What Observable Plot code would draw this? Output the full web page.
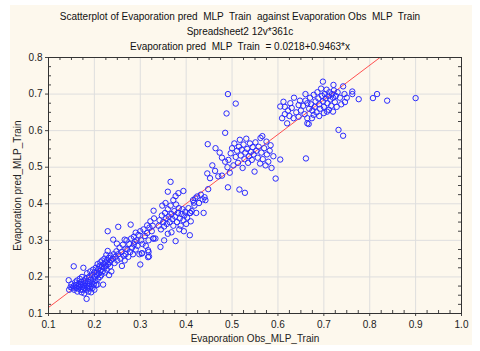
<!DOCTYPE html>
<html>
<head>
<meta charset="utf-8">
<script src="https://cdn.jsdelivr.net/npm/d3@7"></script>
<script src="https://cdn.jsdelivr.net/npm/@observablehq/plot@0.6"></script>
<style>
  html, body { margin: 0; padding: 0; background: #ffffff; }
  body { width: 480px; height: 351px; position: relative; overflow: hidden; font-family: "Liberation Sans", Arial, sans-serif; }
  #panel { position: absolute; left: 10px; top: 5px; width: 462px; height: 340px; background: #fdf8ed; }
  #title { position: absolute; left: 0; top: 9px; width: 480px; text-align: center; font-size: 10px; line-height: 15px; color: #111; white-space: pre; }
  #chart { position: absolute; left: 0; top: 50px; }
</style>
</head>
<body>
<div id="panel"></div>
<div id="title"></div>
<div id="chart"></div>
<script>
// ---- text ----
const titleLines = [
  "Scatterplot of Evaporation pred  MLP  Train  against Evaporation Obs  MLP  Train",
  "Spreadsheet2 12v*361c",
  "Evaporation pred  MLP  Train  = 0.0218+0.9463*x"
];
const xLabel = "Evaporation Obs_MLP_Train";
const yLabel = "Evaporation pred_MLP_Train";

// ---- axes ----
const xTicks = [0.1, 0.2, 0.3, 0.4, 0.5, 0.6, 0.7, 0.8, 0.9, 1.0];
const yTicks = [0.1, 0.2, 0.3, 0.4, 0.5, 0.6, 0.7, 0.8];
const xMinor = [0.125,0.15,0.175,0.225,0.25,0.275,0.325,0.35,0.375,0.425,0.45,0.475,0.525,0.55,0.575,0.625,0.65,0.675,0.725,0.75,0.775,0.825,0.85,0.875,0.925,0.95,0.975];
const yMinor = [0.125,0.15,0.175,0.225,0.25,0.275,0.325,0.35,0.375,0.425,0.45,0.475,0.525,0.55,0.575,0.625,0.65,0.675,0.725,0.75,0.775];

// ---- fit ----
const intercept = 0.0218;
const slope = 0.9463;

// ---- observations [obs, pred] ----
const lowCluster = [
[0.145,0.165],[0.148,0.172],[0.150,0.180],[0.144,0.191],[0.152,0.170],[0.155,0.175],[0.156,0.165],[0.158,0.185],[0.160,0.178],[0.160,0.170],
[0.162,0.190],[0.163,0.160],[0.165,0.175],[0.165,0.168],[0.166,0.182],[0.168,0.195],[0.168,0.172],[0.170,0.165],[0.170,0.178],[0.171,0.186],
[0.172,0.158],[0.173,0.200],[0.174,0.172],[0.175,0.180],[0.175,0.165],[0.176,0.225],[0.177,0.190],[0.178,0.170],[0.178,0.155],[0.180,0.175],
[0.180,0.185],[0.181,0.195],[0.182,0.165],[0.183,0.140],[0.183,0.178],[0.184,0.210],[0.185,0.170],[0.186,0.188],[0.187,0.160],[0.188,0.200],
[0.188,0.175],[0.190,0.182],[0.190,0.168],[0.191,0.215],[0.192,0.192],[0.193,0.158],[0.194,0.175],[0.195,0.205],[0.195,0.185],[0.196,0.170],
[0.197,0.220],[0.198,0.195],[0.199,0.180],[0.200,0.212],[0.200,0.165],[0.201,0.200],[0.202,0.190],[0.203,0.225],[0.204,0.178],[0.205,0.215],
[0.206,0.205],[0.207,0.179],[0.207,0.235],[0.208,0.195],[0.209,0.222],[0.210,0.210],[0.211,0.230],[0.212,0.200],[0.213,0.240],[0.214,0.218],
[0.215,0.205],[0.216,0.228],[0.217,0.245],[0.218,0.215],[0.219,0.179],[0.220,0.235],[0.221,0.225],[0.222,0.250],[0.223,0.212],[0.224,0.240],
[0.225,0.230],[0.226,0.260],[0.227,0.220],[0.228,0.245],[0.229,0.271],[0.229,0.325],[0.230,0.235],[0.231,0.252],[0.232,0.205],[0.233,0.240],
[0.234,0.228],[0.235,0.258],[0.236,0.245],[0.237,0.215],[0.155,0.229]
];
const midLowCluster = [
[0.241,0.302],[0.249,0.291],[0.252,0.337],[0.266,0.302],[0.268,0.277],[0.279,0.343],[0.286,0.289],[0.290,0.321],[0.300,0.234],[0.315,0.341],
[0.318,0.268],[0.319,0.256],[0.304,0.265],[0.329,0.305],[0.329,0.381],[0.333,0.305],[0.240,0.250],[0.242,0.262],[0.244,0.238],[0.246,0.255],
[0.248,0.270],[0.250,0.245],[0.252,0.262],[0.255,0.280],[0.257,0.250],[0.259,0.268],[0.260,0.230],[0.262,0.288],[0.264,0.258],[0.266,0.245],
[0.268,0.262],[0.270,0.300],[0.272,0.275],[0.274,0.255],[0.276,0.290],[0.278,0.268],[0.280,0.305],[0.282,0.280],[0.284,0.262],[0.286,0.310],
[0.288,0.296],[0.290,0.275],[0.292,0.300],[0.294,0.285],[0.296,0.315],[0.298,0.262],[0.300,0.325],[0.302,0.300],[0.305,0.290],[0.307,0.330],
[0.310,0.312],[0.312,0.285],[0.315,0.320],[0.318,0.300],[0.320,0.335],[0.322,0.352],[0.325,0.325],[0.327,0.340],[0.330,0.360]
];
const midCluster = [
[0.366,0.460],[0.360,0.433],[0.377,0.421],[0.383,0.429],[0.394,0.435],[0.408,0.314],[0.377,0.298],[0.344,0.282],[0.328,0.305],[0.317,0.273],
[0.317,0.254],[0.303,0.264],[0.409,0.375],[0.422,0.375],[0.438,0.375],[0.417,0.403],[0.442,0.410],[0.448,0.440],[0.446,0.483],
[0.340,0.340],[0.342,0.355],[0.345,0.330],[0.347,0.368],[0.350,0.350],[0.352,0.338],[0.354,0.375],[0.356,0.360],[0.358,0.345],[0.360,0.385],
[0.362,0.365],[0.364,0.350],[0.366,0.395],[0.368,0.372],[0.370,0.358],[0.372,0.340],[0.374,0.380],[0.376,0.365],[0.378,0.398],[0.380,0.350],
[0.382,0.375],[0.384,0.388],[0.386,0.360],[0.388,0.340],[0.390,0.372],[0.392,0.385],[0.394,0.355],[0.396,0.368],[0.398,0.378],[0.400,0.345],
[0.402,0.362],[0.405,0.388],[0.408,0.375],[0.410,0.352],[0.412,0.380],[0.415,0.410],[0.418,0.395],[0.420,0.415],[0.424,0.420],[0.428,0.402],
[0.432,0.425],[0.436,0.412],[0.440,0.418],[0.352,0.300],[0.360,0.318],[0.368,0.322],[0.385,0.330],[0.395,0.325],[0.348,0.395],[0.355,0.402],
[0.372,0.410]
];
const upperMidCluster = [
[0.491,0.700],[0.508,0.674],[0.488,0.647],[0.485,0.594],[0.447,0.563],[0.464,0.552],[0.473,0.540],[0.478,0.526],[0.478,0.477],[0.491,0.445],
[0.516,0.439],[0.528,0.430],[0.595,0.469],[0.605,0.521],[0.661,0.524],[0.562,0.580],[0.584,0.560],
[0.492,0.520],[0.497,0.538],[0.500,0.552],[0.503,0.505],[0.505,0.565],[0.508,0.528],[0.511,0.545],[0.513,0.512],[0.515,0.556],[0.517,0.575],
[0.519,0.532],[0.521,0.548],[0.523,0.498],[0.525,0.562],[0.527,0.522],[0.529,0.540],[0.531,0.578],[0.533,0.550],[0.535,0.512],[0.537,0.530],
[0.539,0.565],[0.541,0.542],[0.543,0.520],[0.545,0.555],[0.547,0.535],[0.549,0.488],[0.551,0.568],[0.553,0.545],[0.556,0.526],[0.558,0.556],
[0.561,0.510],[0.564,0.540],[0.567,0.522],[0.570,0.552],[0.573,0.505],[0.576,0.535],[0.579,0.515],[0.582,0.545],[0.586,0.498],[0.590,0.530],
[0.490,0.500],[0.495,0.485],[0.485,0.515],[0.470,0.475],[0.463,0.490],[0.457,0.505],[0.452,0.470],[0.575,0.570],[0.566,0.585]
];
const highCluster = [
[0.605,0.666],[0.612,0.679],[0.627,0.675],[0.645,0.670],[0.664,0.675],[0.609,0.634],[0.620,0.620],[0.634,0.634],[0.664,0.620],[0.698,0.734],
[0.721,0.725],[0.742,0.721],[0.762,0.707],[0.762,0.700],[0.746,0.678],[0.776,0.686],[0.807,0.689],[0.816,0.700],[0.838,0.682],[0.900,0.689],
[0.732,0.602],[0.742,0.586],[0.664,0.634],[0.667,0.618],[0.674,0.634],[0.678,0.643],[0.720,0.652],[0.711,0.657],[0.707,0.652],
[0.650,0.655],[0.655,0.668],[0.658,0.645],[0.660,0.682],[0.668,0.660],[0.670,0.690],[0.672,0.672],[0.675,0.655],[0.678,0.698],[0.680,0.665],
[0.682,0.680],[0.684,0.650],[0.686,0.705],[0.688,0.688],[0.690,0.672],[0.692,0.660],[0.694,0.715],[0.696,0.695],[0.698,0.680],[0.700,0.665],
[0.702,0.700],[0.704,0.688],[0.706,0.712],[0.708,0.675],[0.710,0.695],[0.712,0.705],[0.714,0.685],[0.716,0.668],[0.718,0.700],[0.720,0.690],
[0.722,0.710],[0.724,0.678],[0.726,0.695],[0.728,0.665],[0.730,0.705],[0.735,0.690],[0.738,0.672],[0.640,0.650],[0.630,0.662],[0.622,0.655],
[0.615,0.645],[0.635,0.690],[0.645,0.638],[0.648,0.682],[0.615,0.665],[0.625,0.640],[0.660,0.700],[0.690,0.640],[0.700,0.648],[0.745,0.700],
[0.750,0.690]
];

const points = [...lowCluster, ...midLowCluster, ...midCluster, ...upperMidCluster, ...highCluster]
  .map(([obs, pred]) => ({obs, pred}));
const fitLine = [xTicks[0], xTicks[xTicks.length - 1]].map(x => ({obs: x, pred: intercept + slope * x}));

document.getElementById("title").textContent = titleLines.join("\n");

const W = 480, H = 301, mL = 48, mR = 19, mT = 7, mB = 38;
const innerW = W - mL - mR, innerH = H - mT - mB;
const fmt = d3.format(".1f");

const chart = Plot.plot({
  width: W, height: H,
  marginLeft: mL, marginRight: mR, marginTop: mT, marginBottom: mB,
  style: {background: "transparent", fontFamily: "'Liberation Sans', Arial, sans-serif", fontSize: "10px", color: "#222", overflow: "visible"},
  x: {domain: [0.1, 1.0]},
  y: {domain: [0.1, 0.8]},
  marks: [
    Plot.gridX(xTicks, {stroke: "#dedede", strokeOpacity: 1}),
    Plot.gridY(yTicks, {stroke: "#dedede", strokeOpacity: 1}),
    // inward minor ticks on all four sides
    Plot.ruleX(xMinor, {stroke: "#444", insetBottom: innerH - 3}),
    Plot.ruleX(xMinor, {stroke: "#444", insetTop: innerH - 3}),
    Plot.ruleY(yMinor, {stroke: "#444", insetRight: innerW - 3}),
    Plot.ruleY(yMinor, {stroke: "#444", insetLeft: innerW - 3}),
    Plot.axisX(xTicks, {tickSize: 3, tickPadding: 4, tickFormat: fmt, label: null, stroke: "#444", fill: "#222"}),
    Plot.axisY(yTicks, {tickSize: 3, tickPadding: 3, tickFormat: fmt, label: null, stroke: "#444", fill: "#222"}),
    Plot.line(fitLine, {x: "obs", y: "pred", stroke: "#ff5050", strokeWidth: 1, clip: "frame"}),
    Plot.dot(points, {x: "obs", y: "pred", r: 2.7, stroke: "#2a2aff", strokeWidth: 1, fill: "none"}),
    Plot.frame({stroke: "#333", strokeWidth: 1}),
    Plot.text([xLabel], {frameAnchor: "bottom", textAnchor: "middle", dy: 28, fontSize: 10, fill: "#222"}),
    Plot.text([yLabel], {frameAnchor: "left", textAnchor: "middle", dx: -31, rotate: -90, fontSize: 10, fill: "#222"})
  ]
});
document.getElementById("chart").appendChild(chart);
</script>
</body>
</html>
